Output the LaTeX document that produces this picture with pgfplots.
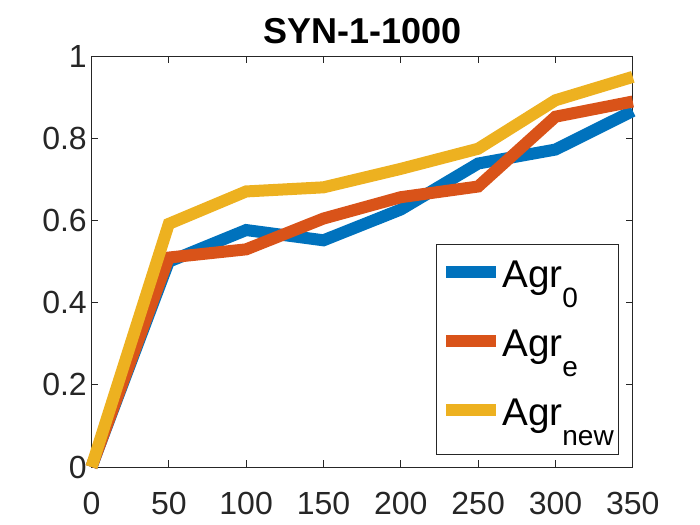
\documentclass[border=0pt]{standalone}
\usepackage{fontspec}
\setmainfont{Liberation Sans}
\usepackage{pgfplots}
\pgfplotsset{compat=1.18}
\definecolor{mblue}{RGB}{0,114,189}
\definecolor{morange}{RGB}{217,83,25}
\definecolor{myellow}{RGB}{237,177,32}
\definecolor{mgray}{RGB}{38,38,38}
\newcommand{\sub}[1]{\raisebox{-15pt}{\fontsize{21}{22}\selectfont #1}}
\begin{document}
\begin{tikzpicture}
\useasboundingbox (0,0) rectangle (525pt,393.75pt);
\begin{axis}[
  at={(68.6pt,43.5pt)}, anchor=south west,
  scale only axis, width=406pt, height=308pt,
  xmin=0, xmax=350, ymin=0, ymax=1,
  xtick={0,50,...,350}, ytick={0,0.2,...,1},
  yticklabels={0,0.2,0.4,0.6,0.8,1},
  tick align=inside, major tick length=5pt,
  axis line style={mgray, line width=0.6pt},
  tick style={mgray, line width=0.6pt},
  ticklabel style={font=\fontsize{24}{26}\selectfont, text=mgray},
  xticklabel style={yshift=-15pt},
  /pgf/number format/assume math mode=true,
  title={\textbf{SYN-1-1000}},
  title style={font=\fontsize{27}{30}\selectfont, text=black},
  clip=false,
  every axis plot/.append style={line width=9pt, line join=miter, miter limit=3},
  legend image code/.code={\draw[#1] (0pt,6pt) -- (37.5pt,6pt);},
  legend style={at={(0.6357,0.544)}, anchor=north west,
    draw=mgray, line width=0.6pt, fill=white,
    inner xsep=3.2pt, inner ysep=11.8pt,
    row sep=20.75pt,
    font=\fontsize{29}{32}\selectfont,
    nodes={inner sep=0pt, text height=21pt, text depth=10pt},
    /tikz/every even column/.append style={column sep=3.7pt}},
  legend cell align=left,
]
\addplot[mblue] coordinates {(0,0) (50,0.50) (100,0.577) (150,0.552) (200,0.627) (250,0.739) (300,0.773) (350,0.867)};
\addplot[morange] coordinates {(0,0) (50,0.51) (100,0.53) (150,0.605) (200,0.657) (250,0.683) (300,0.853) (350,0.89)};
\addplot[myellow] coordinates {(0,0) (50,0.592) (100,0.671) (150,0.681) (200,0.726) (250,0.775) (300,0.893) (350,0.95)};
\legend{Agr\sub{0}, Agr\sub{e}, Agr\sub{new}}
\end{axis}
\end{tikzpicture}
\end{document}
